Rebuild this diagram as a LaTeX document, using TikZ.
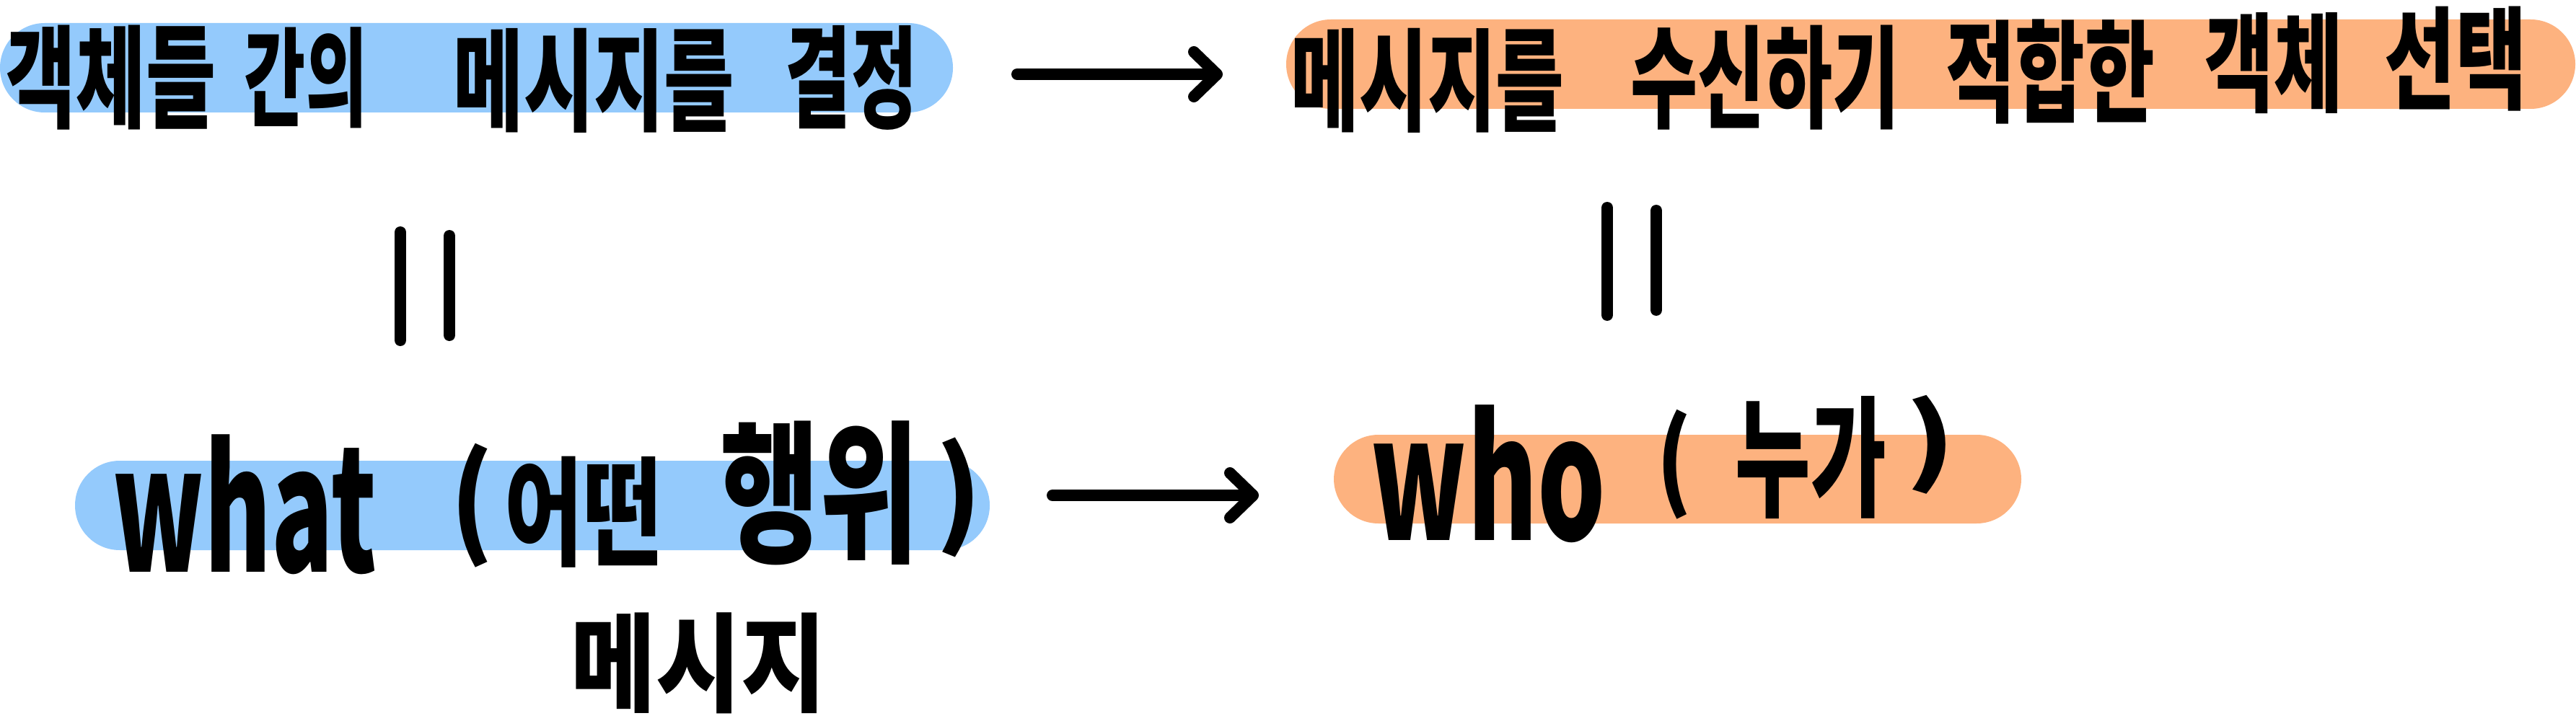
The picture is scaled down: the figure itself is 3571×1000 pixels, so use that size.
\documentclass[tikz,border=0pt]{standalone}
\usepackage{fontspec}
\newfontfamily\hand{Noto Sans CJK KR}
\usetikzlibrary{arrows.meta}
\definecolor{hlblue}{RGB}{148,202,252}
\definecolor{hlorange}{RGB}{253,178,127}
\newcommand\wbox[3]{\resizebox*{#1pt}{#2pt}{\hand\bfseries #3}}
\begin{document}
\begin{tikzpicture}[x=1pt,y=-1pt,
  pill/.style={rectangle,rounded corners=62pt,inner sep=0pt,outer sep=0pt,draw=none},
  txt/.style={inner sep=0pt,outer sep=0pt},
  arr/.style={line width=16pt,line cap=round,-{Straight Barb[length=32pt,width=62pt,round]}},
  eqline/.style={line width=16pt,line cap=round}]
\useasboundingbox[fill=white] (0,0) rectangle (3571,1000);
% highlight pills
\node[pill,fill=hlblue,minimum width=1321pt,minimum height=124pt] (p1) at (660.5,94) {};
\node[pill,fill=hlorange,minimum width=1787pt,minimum height=124pt] (p2) at (2676.5,89) {};
\node[pill,fill=hlblue,minimum width=1268pt,minimum height=124pt] (p3) at (738,701) {};
\node[pill,fill=hlorange,minimum width=953pt,minimum height=123pt] (p4) at (2325.5,664.5) {};
% top-left text
\node[txt] (t1a) at (154,108) {\wbox{290}{145}{객체들}};
\node[txt] (t1b) at (424,108) {\wbox{170}{140}{간의}};
\node[txt] (t1c) at (823.5,112) {\wbox{389}{145}{메시지를}};
\node[txt] (t1d) at (1180.5,108) {\wbox{183}{145}{결정}};
% top-right text
\node[txt] (t2a) at (1979,112) {\wbox{378}{145}{메시지를}};
\node[txt] (t2b) at (2447,108) {\wbox{372}{145}{수신하기}};
\node[txt] (t2c) at (2842,100) {\wbox{290}{145}{적합한}};
\node[txt] (t2d) at (3152.5,88) {\wbox{191}{140}{객체}};
\node[txt] (t2e) at (3404.5,82) {\wbox{197}{145}{선택}};
% bottom-left text
\node[txt] (t3a) at (339.5,700) {\wbox{365}{194}{what}};
\node[txt] (t3b) at (654.5,701) {\wbox{60}{172}{(}};
\node[txt] (t3c) at (809,710) {\wbox{218}{154}{어떤}};
\node[txt] (t3d) at (1136.5,684) {\wbox{275}{200}{행위}};
\node[txt] (t3e) at (1329,690) {\wbox{64}{166}{)}};
% bottom-right text
\node[txt] (t4a) at (2063.5,657.5) {\wbox{325}{191}{who}};
\node[txt] (t4b) at (2320.5,644) {\wbox{49}{152}{(}};
\node[txt] (t4c) at (2510.5,635) {\wbox{209}{170}{누가}};
\node[txt] (t4d) at (2676,616.5) {\wbox{70}{137}{)}};
% bottom label
\node[txt] (t5) at (968.5,920) {\wbox{353}{140}{메시지}};
% arrows
\coordinate (a1s) at (1410,103);
\coordinate (a1e) at (1695,103);
\draw[arr] (a1s) -- (a1e);
\coordinate (a2s) at (1459,687);
\coordinate (a2e) at (1745,687);
\draw[arr] (a2s) -- (a2e);
% equals signs
\draw[eqline] (555,322) -- (555,472);
\draw[eqline] (623,327) -- (623,465);
\draw[eqline] (2228,288) -- (2228,437);
\draw[eqline] (2296,292) -- (2296,430);
\end{tikzpicture}
\end{document}
